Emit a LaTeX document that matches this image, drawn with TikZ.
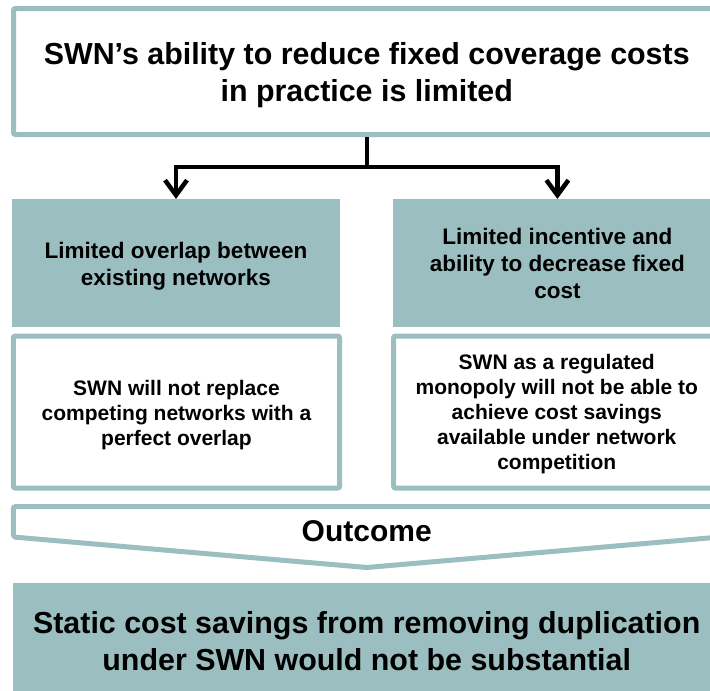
\documentclass[tikz,border=0pt]{standalone}
\usepackage{fontspec}
\setmainfont{Liberation Sans}
\usetikzlibrary{arrows.meta}
\definecolor{teal}{RGB}{155,191,193}
\tikzset{
  bigtext/.style={font=\fontsize{30.4}{37}\selectfont\bfseries, align=center, inner sep=0pt},
  headtext/.style={font=\fontsize{22.5}{27}\selectfont\bfseries, align=center, inner sep=0pt},
  bodytext/.style={font=\fontsize{21}{25}\selectfont\bfseries, align=center, inner sep=0pt},
  framebox/.style={draw=teal, line width=5pt, fill=white, rounded corners=2pt, inner sep=0pt},
  fillbox/.style={fill=teal, draw=none, inner sep=0pt},
  conn/.style={line width=4.5pt, draw=black, line join=miter},
  tip/.style={-{Straight Barb[length=15pt, width=22pt]}},
}
\begin{document}
\begin{tikzpicture}[x=1pt, y=-1pt]
  \useasboundingbox (0,0) rectangle (710,691);
  \clip (0,0) rectangle (710,691);
  \fill[white] (0,0) rectangle (710,691);

  % headline box
  \node[framebox, minimum width=706.5pt, minimum height=126pt] (top) at (366.75,71.5) {};
  \node[bigtext] (toptext) at ([yshift=-3.5pt]top.center)
    {SWN’s ability to reduce fixed coverage costs\\in practice is limited};

  % two causes
  \node[fillbox, minimum width=328pt, minimum height=127.7pt] (lhead) at (176,263) {};
  \node[headtext] (lheadtext) at ([yshift=-3pt]lhead.center)
    {Limited overlap between\\existing networks};
  \node[fillbox, minimum width=328pt, minimum height=127.7pt] (rhead) at (557.4,263) {};
  \node[headtext] (rheadtext) at ([yshift=-0.5pt]rhead.center)
    {Limited incentive and\\ability to decrease fixed\\cost};

  % explanations
  \node[framebox, minimum width=326.4pt, minimum height=152pt] (lbody) at (176.5,412) {};
  \node[bodytext] (lbodytext) at ([yshift=-3pt]lbody.center)
    {SWN will not replace\\competing networks with a\\perfect overlap};
  \node[framebox, minimum width=326.5pt, minimum height=152pt] (rbody) at (556.75,412) {};
  \node[bodytext] (rbodytext) at ([yshift=-2pt]rbody.center)
    {SWN as a regulated\\monopoly will not be able to\\achieve cost savings\\available under network\\competition};

  % outcome chevron
  \draw[teal, line width=5pt, rounded corners=2pt, fill=white]
    (13.3,506.7) -- (720,506.7) -- (720,537) -- (366.7,567.5) -- (13.3,537) -- cycle;
  \node[bigtext, font=\fontsize{30}{36}\selectfont\bfseries] (outcome) at (366.7,531) {Outcome};

  % conclusion
  \node[fillbox, minimum width=708pt, minimum height=108.7pt] (result) at (366.7,637.6) {};
  \node[bigtext] (resulttext) at ([yshift=-3.5pt]result.center)
    {Static cost savings from removing duplication\\under SWN would not be substantial};

  % connectors
  \coordinate (split) at (366.75,167);
  \draw[conn] (top.south) -- (split);
  \draw[conn, tip] (split) -| (lhead.north);
  \draw[conn, tip] (split) -| (rhead.north);
\end{tikzpicture}
\end{document}
